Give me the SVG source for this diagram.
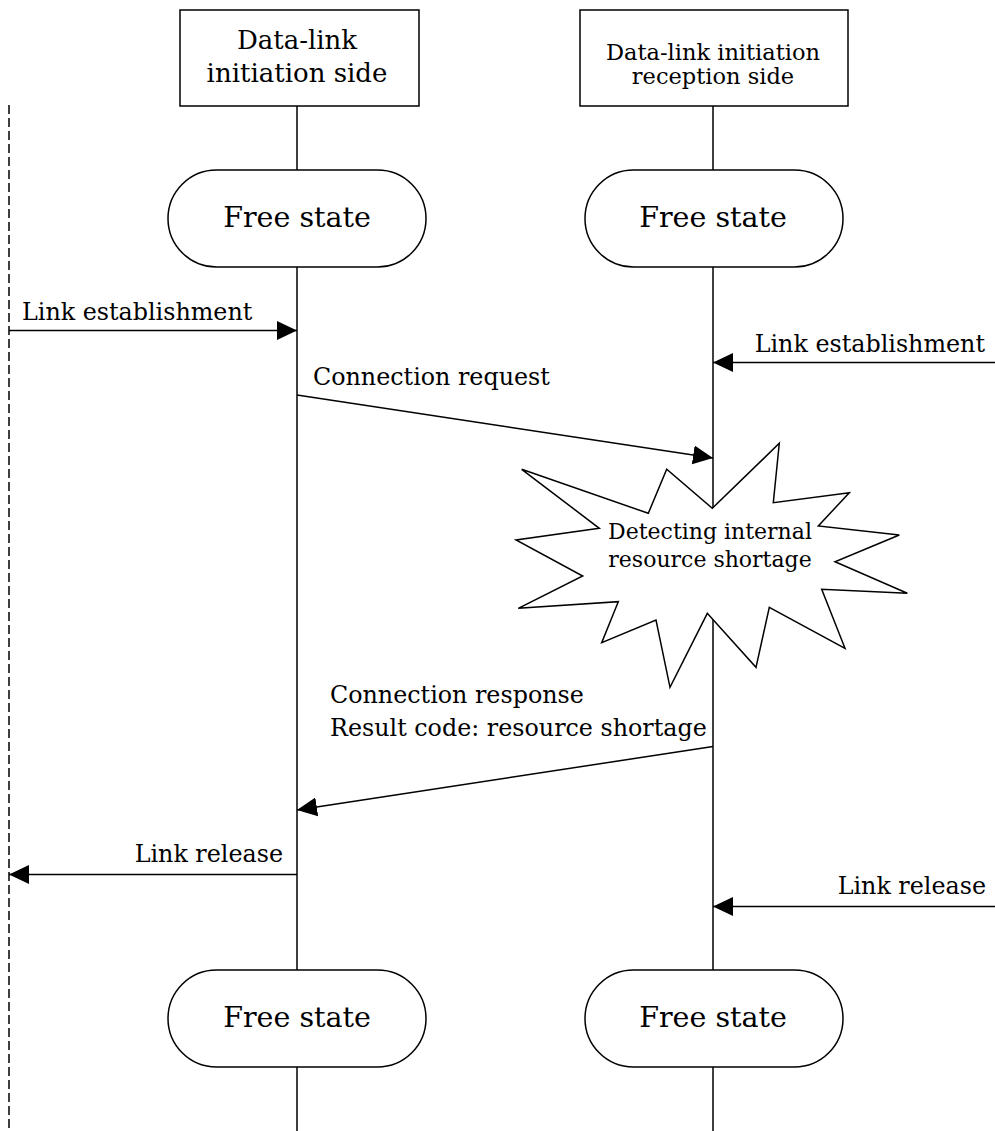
<svg xmlns="http://www.w3.org/2000/svg" width="995" height="1131" viewBox="0 0 995 1131">
  <defs>
    <marker id="arrow" markerUnits="userSpaceOnUse" markerWidth="20" markerHeight="20" viewBox="0 0 20 20" refX="20" refY="10" orient="auto">
      <path d="M0,0.5 L20,10 L0,19.5 Z" fill="#000"/>
    </marker>
    <style>
      .line { stroke: #000; stroke-width: 1.5; fill: none; }
      .dash { stroke: #000; stroke-width: 1.5; fill: none; stroke-dasharray: 9 4; }
      .shape { stroke: #000; stroke-width: 1.5; fill: #fff; }
      .msg { stroke: #000; stroke-width: 1.5; fill: none; marker-end: url(#arrow); }
      text { font-family: "DejaVu Serif", "Liberation Serif", serif; fill: #000; }
      .lbl { font-size: 23.8px; }
      .state { font-size: 28.5px; text-anchor: middle; }
      .mid { text-anchor: middle; }
      .end { text-anchor: end; }
    </style>
  </defs>

  <rect width="995" height="1131" fill="#fff"/>

  <!-- environment boundary -->
  <line class="dash" x1="9" y1="105" x2="9" y2="1131"/>

  <!-- lifelines -->
  <g id="lifelines">
    <line class="line" x1="297" y1="106" x2="297" y2="170"/>
    <line class="line" x1="297" y1="267" x2="297" y2="970"/>
    <line class="line" x1="297" y1="1067" x2="297" y2="1131"/>
    <line class="line" x1="713" y1="106" x2="713" y2="170"/>
    <line class="line" x1="713" y1="267" x2="713" y2="970"/>
    <line class="line" x1="713" y1="1067" x2="713" y2="1131"/>
  </g>

  <!-- header boxes -->
  <g id="initiator">
    <rect class="shape" x="180" y="10" width="239" height="96"/>
    <text class="mid" x="297" y="49" font-size="26">Data-link</text>
    <text class="mid" x="297" y="82" font-size="26">initiation side</text>
  </g>
  <g id="receiver">
    <rect class="shape" x="580" y="10" width="268" height="96"/>
    <text class="mid" x="713" y="60" font-size="22.5">Data-link initiation</text>
    <text class="mid" x="713" y="84" font-size="22.5">reception side</text>
  </g>

  <!-- states -->
  <g id="free-initiator-top">
    <rect class="shape" x="168" y="170" width="258" height="97" rx="48.5"/>
    <text class="state" x="297" y="227">Free state</text>
  </g>
  <g id="free-receiver-top">
    <rect class="shape" x="585" y="170" width="258" height="97" rx="48.5"/>
    <text class="state" x="713" y="227">Free state</text>
  </g>
  <g id="free-initiator-bottom">
    <rect class="shape" x="168" y="970" width="258" height="97" rx="48.5"/>
    <text class="state" x="297" y="1027">Free state</text>
  </g>
  <g id="free-receiver-bottom">
    <rect class="shape" x="585" y="970" width="258" height="97" rx="48.5"/>
    <text class="state" x="713" y="1027">Free state</text>
  </g>

  <!-- messages -->
  <g id="connectors">
    <line class="msg" x1="9" y1="330.5" x2="297" y2="330.5"/>
    <line class="msg" x1="995" y1="362.5" x2="713" y2="362.5"/>
    <line class="msg" x1="297" y1="395" x2="713" y2="458"/>
    <line class="msg" x1="713" y1="746.5" x2="297" y2="810"/>
    <line class="msg" x1="297" y1="874.5" x2="9" y2="874.5"/>
    <line class="msg" x1="995" y1="906.5" x2="713" y2="906.5"/>
  </g>

  <g id="labels">
    <text class="lbl" x="22" y="320">Link establishment</text>
    <text class="lbl end" x="985" y="352">Link establishment</text>
    <text class="lbl" x="313" y="385">Connection request</text>
    <text class="lbl" x="330" y="703">Connection response</text>
    <text class="lbl" x="330" y="736">Result code: resource shortage</text>
    <text class="lbl end" x="283" y="862">Link release</text>
    <text class="lbl end" x="986" y="894">Link release</text>
  </g>

  <!-- resource shortage event -->
  <g id="shortage-event">
    <polygon class="shape" points="521.7,469.3 648.3,513.3 666.7,469.3 712.3,508.3 779.3,443.3 773.3,502.7 849.3,492.7 818.3,526 899.3,535 835,561.7 907.3,593.3 821.7,589.3 845,648.3 769.3,607.3 756,667.3 707.3,613.3 670,687.3 656,620 601.7,642.7 618.3,601.7 518.3,608.3 582.7,576 516,540 599.3,528.3"/>
    <text class="mid" x="710" y="539" font-size="22">Detecting internal</text>
    <text class="mid" x="710" y="567" font-size="22">resource shortage</text>
  </g>
</svg>
